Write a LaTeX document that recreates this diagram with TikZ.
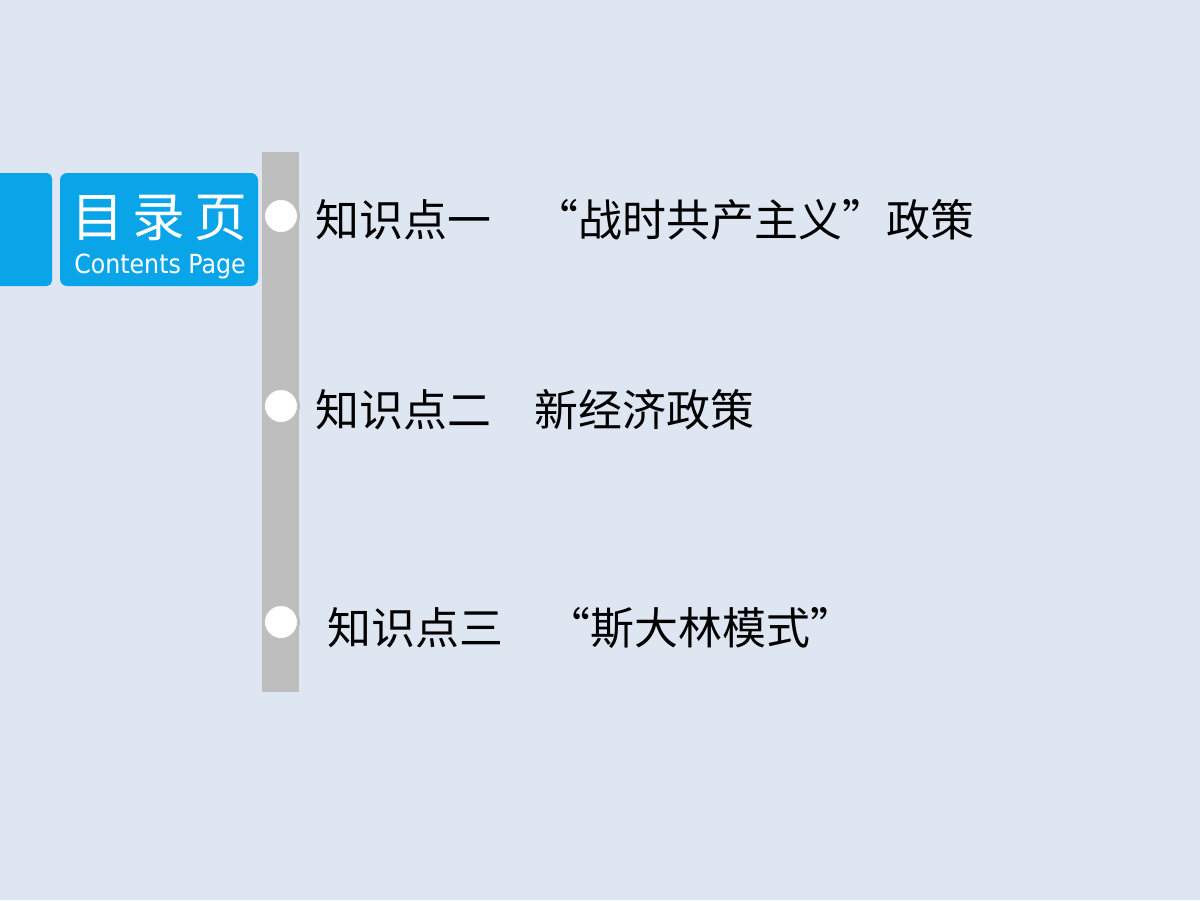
\documentclass[tikz,border=0pt]{standalone}
\usepackage{fontspec}
\newfontfamily\cjk{Noto Sans CJK SC}
\newfontfamily\condfont{DejaVu Sans Condensed}
\definecolor{bgcol}{HTML}{DDE6F1}
\definecolor{tabblue}{HTML}{0AA4E8}
\definecolor{barcol}{HTML}{BEBEBE}
\tikzset{
  dot/.style={circle,draw=barcol,line width=1.6pt,fill=white,minimum size=0.7cm,inner sep=0pt},
  item/.style={anchor=west,inner sep=0pt,font=\cjk\fontsize{25}{30}\selectfont}
}
\begin{document}
\begin{tikzpicture}[x=0.02cm,y=-0.02cm]
\fill[bgcol] (0,0) rectangle (1200,900);
\useasboundingbox (0,0) rectangle (1200,900);
\fill[tabblue,rounded corners=3pt] (-10,173) rectangle (52,286);
\fill[tabblue,rounded corners=4pt] (60,173) rectangle (258,286);
\node (title) [text=white,font=\cjk\fontsize{30}{34}\selectfont] at (159,218) {目\,录\,页};
\node (subtitle) [text=white,font=\condfont\fontsize{15}{18}\selectfont] at (160,266) {Contents Page};
\fill[barcol] (262,152) rectangle (299,692);
\node (dot1) [dot] at (281,216) {};
\node (dot2) [dot] at (281,406) {};
\node (dot3) [dot] at (281,622) {};
\node (item1) [item] at (315,220) {知识点一\quad “战时共产主义”政策};
\node (item2) [item] at (315,410) {知识点二\quad 新经济政策};
\node (item3) [item] at (327,628) {知识点三\quad “斯大林模式”};
\end{tikzpicture}
\end{document}
